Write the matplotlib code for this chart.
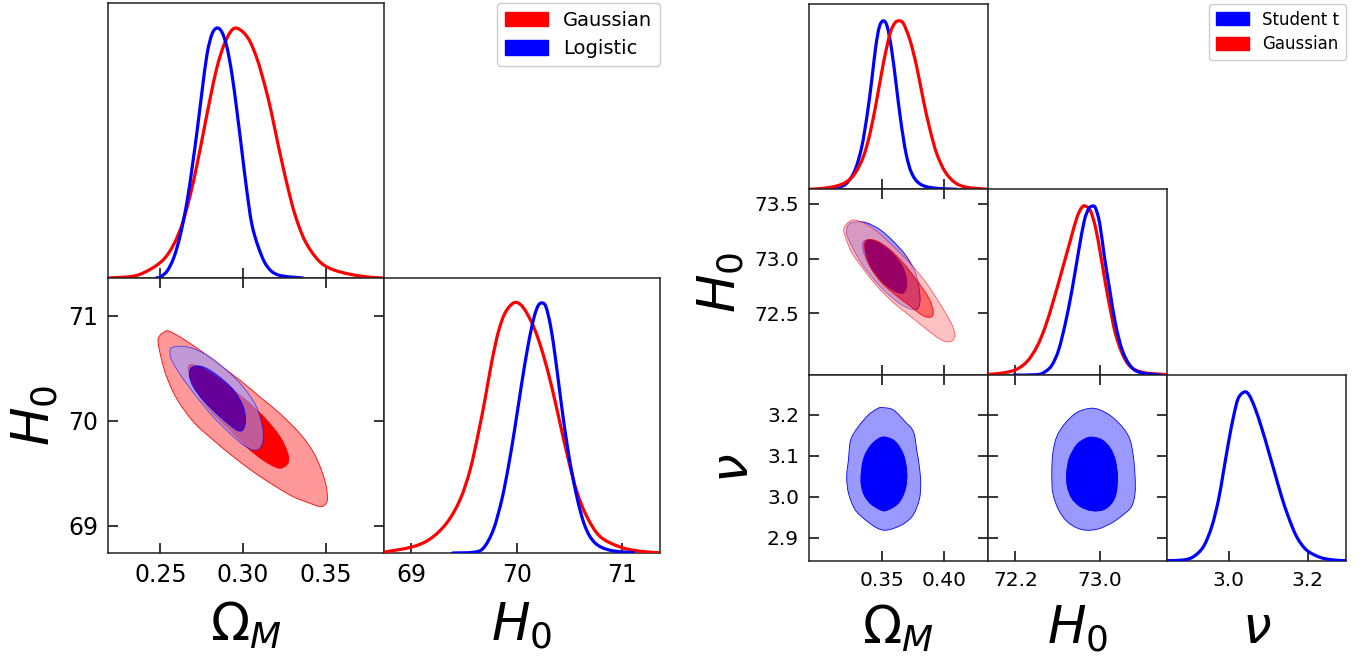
import numpy as np
import matplotlib
matplotlib.use("Agg")
import matplotlib.pyplot as plt
from matplotlib.patches import Patch, PathPatch
from matplotlib.path import Path

# ---------------------------------------------------------------- data
# ===== Left triangle: Gaussian (red) vs Logistic (blue) =====
L_om_red_x = [0.2186, 0.2342, 0.2442, 0.2522, 0.2582, 0.2632, 0.2682, 0.2722, 0.2762, 0.2802,
              0.2842, 0.2882, 0.2922, 0.2956, 0.3002, 0.3042, 0.3082, 0.3112, 0.3152, 0.3182,
              0.3212, 0.3242, 0.3272, 0.3312, 0.3372, 0.3452, 0.3532, 0.3652, 0.3770, 0.3850]
L_om_red_y = [0.000, 0.008, 0.036, 0.076, 0.136, 0.216, 0.336, 0.456, 0.589, 0.723,
              0.843, 0.929, 0.983, 1.000, 0.982, 0.945, 0.880, 0.815, 0.715, 0.625,
              0.530, 0.440, 0.355, 0.255, 0.150, 0.072, 0.036, 0.014, 0.003, 0.000]
L_om_blue_x = [0.2475, 0.2502, 0.2542, 0.2582, 0.2622, 0.2662, 0.2692, 0.2722, 0.2752, 0.2782,
               0.2812, 0.2842, 0.2872, 0.2902, 0.2932, 0.2962, 0.2992, 0.3022, 0.3052, 0.3092,
               0.3142, 0.3212, 0.3360]
L_om_blue_y = [0.000, 0.005, 0.029, 0.083, 0.176, 0.309, 0.443, 0.589, 0.749, 0.896,
               0.976, 1.000, 0.983, 0.923, 0.816, 0.669, 0.509, 0.349, 0.216, 0.123,
               0.049, 0.012, 0.000]

L_h0_red_x = [68.734, 69.003, 69.177, 69.335, 69.462, 69.557, 69.636, 69.699, 69.763, 69.826,
              69.889, 69.968, 70.032, 70.095, 70.174, 70.253, 70.332, 70.411, 70.491, 70.570,
              70.665, 70.791, 70.981, 71.171, 71.361]
L_h0_red_y = [0.003, 0.024, 0.056, 0.120, 0.213, 0.332, 0.480, 0.615, 0.765, 0.885,
              0.960, 1.000, 0.995, 0.960, 0.891, 0.791, 0.665, 0.519, 0.372, 0.246,
              0.146, 0.066, 0.024, 0.007, 0.001]
L_h0_blue_x = [69.392, 69.589, 69.684, 69.778, 69.858, 69.921, 69.984, 70.047, 70.111, 70.165,
               70.206, 70.244, 70.278, 70.323, 70.370, 70.427, 70.491, 70.570, 70.649, 70.744,
               70.886, 71.108]
L_h0_blue_y = [0.000, 0.003, 0.020, 0.093, 0.213, 0.346, 0.505, 0.678, 0.838, 0.944,
               0.991, 1.000, 0.984, 0.904, 0.771, 0.585, 0.399, 0.226, 0.106, 0.040,
               0.011, 0.001]

# 2D contours (Omega_M, H0): outer = 95%, inner = 68%
L_red_out_x = [0.2548, 0.2618, 0.2739, 0.2859, 0.2980, 0.3100, 0.3221, 0.3341, 0.3422, 0.3472,
               0.3502, 0.3508, 0.3492, 0.3462, 0.3402, 0.3301, 0.3181, 0.3060, 0.2940, 0.2819,
               0.2699, 0.2598, 0.2538, 0.2508, 0.2486, 0.2498, 0.2528]
L_red_out_y = [70.856, 70.799, 70.672, 70.529, 70.387, 70.228, 70.070, 69.880, 69.705, 69.531,
               69.372, 69.246, 69.198, 69.182, 69.214, 69.277, 69.388, 69.515, 69.658, 69.816,
               69.990, 70.212, 70.418, 70.577, 70.751, 70.815, 70.849]
L_red_in_x = [0.2679, 0.2739, 0.2839, 0.2940, 0.3040, 0.3141, 0.3221, 0.3265, 0.3273, 0.3241,
              0.3201, 0.3120, 0.3020, 0.2920, 0.2819, 0.2739, 0.2689, 0.2669]
L_red_in_y = [70.536, 70.513, 70.418, 70.292, 70.165, 70.006, 69.848, 69.705, 69.610, 69.556,
              69.556, 69.626, 69.753, 69.911, 70.070, 70.228, 70.387, 70.482]
L_blue_out_x = [0.2568, 0.2629, 0.2699, 0.2799, 0.2900, 0.3000, 0.3080, 0.3116, 0.3120, 0.3100,
                0.3060, 0.3000, 0.2920, 0.2819, 0.2719, 0.2629, 0.2568, 0.2558]
L_blue_out_y = [70.697, 70.710, 70.688, 70.609, 70.482, 70.323, 70.133, 69.943, 69.816, 69.737,
                69.721, 69.769, 69.880, 70.038, 70.228, 70.418, 70.577, 70.656]
L_blue_in_x = [0.2689, 0.2739, 0.2799, 0.2880, 0.2950, 0.3000, 0.3014, 0.3000, 0.2970, 0.2920,
               0.2839, 0.2759, 0.2699, 0.2675]
L_blue_in_y = [70.507, 70.520, 70.482, 70.387, 70.276, 70.133, 70.006, 69.918, 69.905, 69.959,
               70.070, 70.197, 70.323, 70.434]

# ===== Right triangle: Student t (blue) vs Gaussian (red) =====
R_om_blue_x = [0.3059, 0.3139, 0.3219, 0.3286, 0.3340, 0.3385, 0.3420, 0.3452, 0.3481, 0.3513,
               0.3545, 0.3580, 0.3615, 0.3652, 0.3695, 0.3741, 0.3807, 0.3914, 0.4102]
R_om_blue_y = [0.000, 0.008, 0.036, 0.115, 0.253, 0.451, 0.648, 0.846, 0.964, 1.000,
               0.964, 0.826, 0.628, 0.411, 0.213, 0.095, 0.032, 0.008, 0.000]
R_om_red_x = [0.2914, 0.3032, 0.3139, 0.3219, 0.3286, 0.3353, 0.3406, 0.3460, 0.3513, 0.3567,
              0.3607, 0.3639, 0.3674, 0.3727, 0.3781, 0.3834, 0.3888, 0.3941, 0.4008, 0.4088,
              0.4182, 0.4353]
R_om_red_y = [0.000, 0.006, 0.020, 0.045, 0.095, 0.194, 0.332, 0.530, 0.747, 0.925,
              0.988, 1.000, 0.984, 0.885, 0.727, 0.530, 0.352, 0.213, 0.105, 0.040,
              0.012, 0.000]

R_h0_red_x = [71.934, 72.055, 72.197, 72.308, 72.402, 72.481, 72.560, 72.640, 72.719, 72.782,
              72.829, 72.861, 72.908, 72.956, 73.003, 73.051, 73.098, 73.145, 73.209, 73.288,
              73.414, 73.636]
R_h0_red_y = [0.004, 0.010, 0.030, 0.079, 0.167, 0.285, 0.443, 0.620, 0.797, 0.935,
              0.994, 1.000, 0.974, 0.876, 0.719, 0.541, 0.384, 0.246, 0.128, 0.049,
              0.014, 0.002]
R_h0_blue_x = [72.181, 72.402, 72.481, 72.545, 72.608, 72.671, 72.734, 72.798, 72.851, 72.892,
               72.924, 72.956, 72.997, 73.041, 73.092, 73.145, 73.209, 73.288, 73.383, 73.572]
R_h0_blue_y = [0.000, 0.002, 0.020, 0.059, 0.148, 0.305, 0.502, 0.738, 0.915, 0.984,
               1.000, 0.990, 0.896, 0.699, 0.502, 0.305, 0.148, 0.053, 0.014, 0.000]

R_nu_blue_x = [2.843, 2.885, 2.911, 2.936, 2.957, 2.974, 2.986, 2.999, 3.012, 3.024,
               3.040, 3.052, 3.067, 3.084, 3.100, 3.117, 3.134, 3.151, 3.172, 3.197,
               3.231, 3.265, 3.297]
R_nu_blue_y = [0.002, 0.006, 0.026, 0.085, 0.203, 0.360, 0.518, 0.695, 0.852, 0.961,
               1.000, 0.980, 0.902, 0.783, 0.656, 0.518, 0.380, 0.262, 0.144, 0.065,
               0.022, 0.006, 0.002]

# (Omega_M, H0) contours
R_red_out_x = [0.3259, 0.3352, 0.3458, 0.3590, 0.3722, 0.3854, 0.3960, 0.4053, 0.4087, 0.4071,
               0.4026, 0.3960, 0.3854, 0.3722, 0.3590, 0.3458, 0.3352, 0.3259, 0.3206, 0.3198]
R_red_out_y = [73.349, 73.325, 73.250, 73.114, 72.964, 72.783, 72.602, 72.422, 72.316, 72.256,
               72.241, 72.271, 72.361, 72.482, 72.602, 72.753, 72.904, 73.054, 73.205, 73.280]
R_red_in_x = [0.3378, 0.3458, 0.3563, 0.3669, 0.3775, 0.3881, 0.3913, 0.3894, 0.3828, 0.3722,
              0.3616, 0.3497, 0.3405, 0.3365]
R_red_in_y = [73.166, 73.160, 73.084, 72.964, 72.813, 72.633, 72.512, 72.467, 72.482, 72.572,
              72.663, 72.783, 72.934, 73.084]
R_blue_out_x = [0.3233, 0.3299, 0.3378, 0.3484, 0.3590, 0.3696, 0.3775, 0.3807, 0.3796, 0.3749,
                0.3669, 0.3563, 0.3458, 0.3352, 0.3272, 0.3220]
R_blue_out_y = [73.310, 73.334, 73.325, 73.265, 73.160, 73.024, 72.858, 72.663, 72.557, 72.536,
                72.572, 72.663, 72.783, 72.934, 73.084, 73.220]
R_blue_in_x = [0.3360, 0.3418, 0.3497, 0.3590, 0.3669, 0.3701, 0.3683, 0.3643, 0.3577, 0.3497,
               0.3418, 0.3365, 0.3347]
R_blue_in_y = [73.160, 73.166, 73.130, 73.039, 72.919, 72.783, 72.699, 72.687, 72.723, 72.798,
               72.904, 73.024, 73.114]

# (Omega_M, nu) contours, Student t
R_omnu_out_x = [0.3500, 0.3594, 0.3687, 0.3754, 0.3781, 0.3802, 0.3813, 0.3802, 0.3754, 0.3687,
                0.3607, 0.3527, 0.3460, 0.3366, 0.3286, 0.3233, 0.3219, 0.3233, 0.3251, 0.3313,
                0.3393, 0.3460]
R_omnu_out_y = [3.2174, 3.2117, 3.1833, 3.1590, 3.1144, 3.0738, 3.0333, 2.9927, 2.9562, 2.9359,
                2.9238, 2.9181, 2.9238, 2.9440, 2.9684, 3.0089, 3.0495, 3.0900, 3.1387, 3.1711,
                3.1995, 3.2141]
R_omnu_in_x = [0.3527, 0.3607, 0.3674, 0.3701, 0.3687, 0.3634, 0.3540, 0.3487, 0.3406, 0.3353,
               0.3334, 0.3353, 0.3406, 0.3473]
R_omnu_in_y = [3.1452, 3.1346, 3.1022, 3.0576, 3.0170, 2.9846, 2.9667, 2.9684, 2.9846, 3.0089,
               3.0414, 3.0900, 3.1225, 3.1411]

# (H0, nu) contours, Student t
R_h0nu_out_x = [72.9055, 73.0000, 73.1103, 73.2205, 73.2835, 73.3150, 73.3308, 73.3308, 73.2993,
                73.2205, 73.1103, 72.9843, 72.8740, 72.7795, 72.6850, 72.6063, 72.5528, 72.5433,
                72.5528, 72.5905, 72.6693, 72.7795]
R_h0nu_out_y = [3.2157, 3.2117, 3.1955, 3.1671, 3.1387, 3.0981, 3.0495, 3.0089, 2.9765,
                2.9562, 2.9359, 2.9213, 2.9181, 2.9238, 2.9400, 2.9684, 3.0089, 3.0576,
                3.1062, 3.1468, 3.1792, 3.2052]
R_h0nu_in_x = [72.9213, 73.0158, 73.0945, 73.1418, 73.1638, 73.1512, 73.1103, 73.0315, 72.9213,
               72.8110, 72.7323, 72.6913, 72.6850, 72.7102, 72.7795, 72.8583]
R_h0nu_in_y = [3.1452, 3.1387, 3.1184, 3.0900, 3.0495, 3.0089, 2.9846, 2.9684, 2.9659,
               2.9765, 2.9968, 3.0251, 3.0576, 3.0941, 3.1265, 3.1411]

# limits and ticks
L_om_lim = (0.2184, 0.3850)
L_h0_lim = (68.74, 71.36)
L_om_ticks = [0.25, 0.30, 0.35]
L_om_ticklabels = ["0.25", "0.30", "0.35"]
L_h0_ticks = [69, 70, 71]
L_h0_ticklabels = ["69", "70", "71"]

R_om_lim = (0.2914, 0.4353)
R_h0_lim = (71.94, 73.63)
R_nu_lim = (2.843, 3.297)
R_om_ticks = [0.35, 0.40]
R_om_ticklabels = ["0.35", "0.40"]
R_h0_yticks = [72.5, 73.0, 73.5]
R_h0_yticklabels = ["72.5", "73.0", "73.5"]
R_h0_xticks = [72.2, 73.0]
R_h0_xticklabels = ["72.2", "73.0"]
R_nu_yticks = [2.9, 3.0, 3.1, 3.2]
R_nu_yticklabels = ["2.9", "3.0", "3.1", "3.2"]
R_nu_xticks = [3.0, 3.2]
R_nu_xticklabels = ["3.0", "3.2"]

legend_left = ["Gaussian", "Logistic"]
legend_right = ["Student t", "Gaussian"]

# ---------------------------------------------------------------- style
RED = "#ff0000"
BLUE = "#0000ff"
RED_PALE = "#ff9999"
BLUE_PALE = "#9999ff"

W, H = 1369, 660
fig = plt.figure(figsize=(W / 100, H / 100), dpi=100)


def px_axes(x0, y0, x1, y1):
    return fig.add_axes([x0 / W, 1 - y1 / H, (x1 - x0) / W, (y1 - y0) / H])


def bezier_through(xs, ys, closed):
    """Smooth (Catmull-Rom -> cubic Bezier) path passing through the read points."""
    P = np.column_stack([xs, ys]).astype(float)
    n = len(P)
    verts = [P[0]]
    codes = [Path.MOVETO]
    nseg = n if closed else n - 1
    for i in range(nseg):
        if closed:
            p0, p1, p2, p3 = P[(i - 1) % n], P[i], P[(i + 1) % n], P[(i + 2) % n]
        else:
            p0 = P[max(i - 1, 0)]
            p1 = P[i]
            p2 = P[i + 1]
            p3 = P[min(i + 2, n - 1)]
        verts += [p1 + (p2 - p0) / 6.0, p2 - (p3 - p1) / 6.0, p2]
        codes += [Path.CURVE4] * 3
    if closed:
        verts.append(P[0])
        codes.append(Path.CLOSEPOLY)
    return verts, codes


def signed_area(xs, ys):
    x = np.asarray(xs)
    y = np.asarray(ys)
    return 0.5 * np.sum(x * np.roll(y, -1) - np.roll(x, -1) * y)


def curve(ax, xs, ys, col):
    v, c = bezier_through(xs, ys, False)
    ax.add_patch(PathPatch(Path(v, c), fill=False, edgecolor=col, lw=2.3,
                           capstyle="round", joinstyle="round", zorder=3))


def style(ax, lsize, diag=False):
    for s in ax.spines.values():
        s.set_linewidth(1.1)
        s.set_color("#222222")
    if diag:
        ax.tick_params(axis="x", direction="in", length=7, width=1.1, bottom=True, top=False,
                       labelsize=lsize, pad=7)
        ax.set_yticks([])
        ax.set_ylim(0, 1.1)
    else:
        ax.tick_params(direction="in", length=7, width=1.1, top=True, right=True,
                       labelsize=lsize, pad=7)


def fill2d(ax, xo, yo, xi, yi, col, pale, alpha):
    vo, co = bezier_through(xo, yo, True)
    if np.sign(signed_area(xo, yo)) == np.sign(signed_area(xi, yi)):
        xh, yh = xi[::-1], yi[::-1]
    else:
        xh, yh = xi, yi
    vh, ch = bezier_through(xh, yh, True)
    ring = Path(vo + vh, co + ch)
    ax.add_patch(PathPatch(ring, facecolor=pale, edgecolor=col, lw=0.6, alpha=alpha, zorder=2))
    vi, ci = bezier_through(xi, yi, True)
    ax.add_patch(PathPatch(Path(vi, ci), facecolor=col, edgecolor=col, lw=0.6, alpha=alpha,
                           zorder=2))


LAB = 37
# ================= left triangle
lx = [108, 384, 660]
ly = [3, 278, 553]
ls = 17

a00 = px_axes(lx[0], ly[0], lx[1], ly[1])
curve(a00, L_om_red_x, L_om_red_y, RED)
curve(a00, L_om_blue_x, L_om_blue_y, BLUE)
a00.set_xlim(*L_om_lim)
a00.set_xticks(L_om_ticks)
a00.set_xticklabels([])
style(a00, ls, diag=True)

a10 = px_axes(lx[0], ly[1], lx[1], ly[2])
fill2d(a10, L_red_out_x, L_red_out_y, L_red_in_x, L_red_in_y, RED, RED_PALE, 1.0)
fill2d(a10, L_blue_out_x, L_blue_out_y, L_blue_in_x, L_blue_in_y, BLUE, BLUE_PALE, 0.6)
a10.set_xlim(*L_om_lim)
a10.set_ylim(*L_h0_lim)
a10.set_xticks(L_om_ticks)
a10.set_xticklabels(L_om_ticklabels)
a10.set_yticks(L_h0_ticks)
a10.set_yticklabels(L_h0_ticklabels)
style(a10, ls)
a10.set_xlabel(r"$\Omega_M$", fontsize=LAB, labelpad=10)
a10.set_ylabel(r"$H_0$", fontsize=LAB, labelpad=6)

a11 = px_axes(lx[1], ly[1], lx[2], ly[2])
curve(a11, L_h0_red_x, L_h0_red_y, RED)
curve(a11, L_h0_blue_x, L_h0_blue_y, BLUE)
a11.set_xlim(*L_h0_lim)
a11.set_xticks(L_h0_ticks)
a11.set_xticklabels(L_h0_ticklabels)
style(a11, ls, diag=True)
a11.set_xlabel(r"$H_0$", fontsize=LAB, labelpad=10)

fig.legend(handles=[Patch(color=RED, label=legend_left[0]),
                    Patch(color=BLUE, label=legend_left[1])],
           loc="upper right", bbox_to_anchor=(660 / W, 1 - 3 / H), fontsize=14,
           handlelength=2.2, handleheight=0.8, borderaxespad=0, framealpha=1,
           edgecolor="#cccccc")

# ================= right triangle
rx = [808.7, 988, 1166.7, 1346]
ry = [4, 189.3, 375, 561]
rs = 14.5

b00 = px_axes(rx[0], ry[0], rx[1], ry[1])
curve(b00, R_om_blue_x, R_om_blue_y, BLUE)
curve(b00, R_om_red_x, R_om_red_y, RED)
b00.set_xlim(*R_om_lim)
b00.set_xticks(R_om_ticks)
b00.set_xticklabels([])
style(b00, rs, diag=True)

b10 = px_axes(rx[0], ry[1], rx[1], ry[2])
fill2d(b10, R_blue_out_x, R_blue_out_y, R_blue_in_x, R_blue_in_y, BLUE, BLUE_PALE, 1.0)
fill2d(b10, R_red_out_x, R_red_out_y, R_red_in_x, R_red_in_y, RED, RED_PALE, 0.6)
b10.set_xlim(*R_om_lim)
b10.set_ylim(*R_h0_lim)
b10.set_xticks(R_om_ticks)
b10.set_xticklabels([])
b10.set_yticks(R_h0_yticks)
b10.set_yticklabels(R_h0_yticklabels)
style(b10, rs)
b10.set_ylabel(r"$H_0$", fontsize=LAB, labelpad=6)

b11 = px_axes(rx[1], ry[1], rx[2], ry[2])
curve(b11, R_h0_red_x, R_h0_red_y, RED)
curve(b11, R_h0_blue_x, R_h0_blue_y, BLUE)
b11.set_xlim(*R_h0_lim)
b11.set_xticks(R_h0_xticks)
b11.set_xticklabels([])
style(b11, rs, diag=True)

b20 = px_axes(rx[0], ry[2], rx[1], ry[3])
fill2d(b20, R_omnu_out_x, R_omnu_out_y, R_omnu_in_x, R_omnu_in_y, BLUE, BLUE_PALE, 1.0)
b20.set_xlim(*R_om_lim)
b20.set_ylim(*R_nu_lim)
b20.set_xticks(R_om_ticks)
b20.set_xticklabels(R_om_ticklabels)
b20.set_yticks(R_nu_yticks)
b20.set_yticklabels(R_nu_yticklabels)
style(b20, rs)
b20.set_xlabel(r"$\Omega_M$", fontsize=LAB, labelpad=10)
b20.set_ylabel(r"$\nu$", fontsize=LAB, labelpad=6)

b21 = px_axes(rx[1], ry[2], rx[2], ry[3])
fill2d(b21, R_h0nu_out_x, R_h0nu_out_y, R_h0nu_in_x, R_h0nu_in_y, BLUE, BLUE_PALE, 1.0)
b21.set_xlim(*R_h0_lim)
b21.set_ylim(*R_nu_lim)
b21.set_xticks(R_h0_xticks)
b21.set_xticklabels(R_h0_xticklabels)
b21.set_yticks(R_nu_yticks)
b21.set_yticklabels([])
style(b21, rs)
b21.set_xlabel(r"$H_0$", fontsize=LAB, labelpad=10)

b22 = px_axes(rx[2], ry[2], rx[3], ry[3])
curve(b22, R_nu_blue_x, R_nu_blue_y, BLUE)
b22.set_xlim(*R_nu_lim)
b22.set_xticks(R_nu_xticks)
b22.set_xticklabels(R_nu_xticklabels)
style(b22, rs, diag=True)
b22.set_xlabel(r"$\nu$", fontsize=LAB, labelpad=10)

fig.legend(handles=[Patch(color=BLUE, label=legend_right[0]),
                    Patch(color=RED, label=legend_right[1])],
           loc="upper right", bbox_to_anchor=(1346 / W, 1 - 4 / H), fontsize=12,
           handlelength=2.0, handleheight=0.8, labelspacing=0.4, borderpad=0.4,
           borderaxespad=0, framealpha=1, edgecolor="#cccccc")

fig.savefig("out.png", dpi=100)
